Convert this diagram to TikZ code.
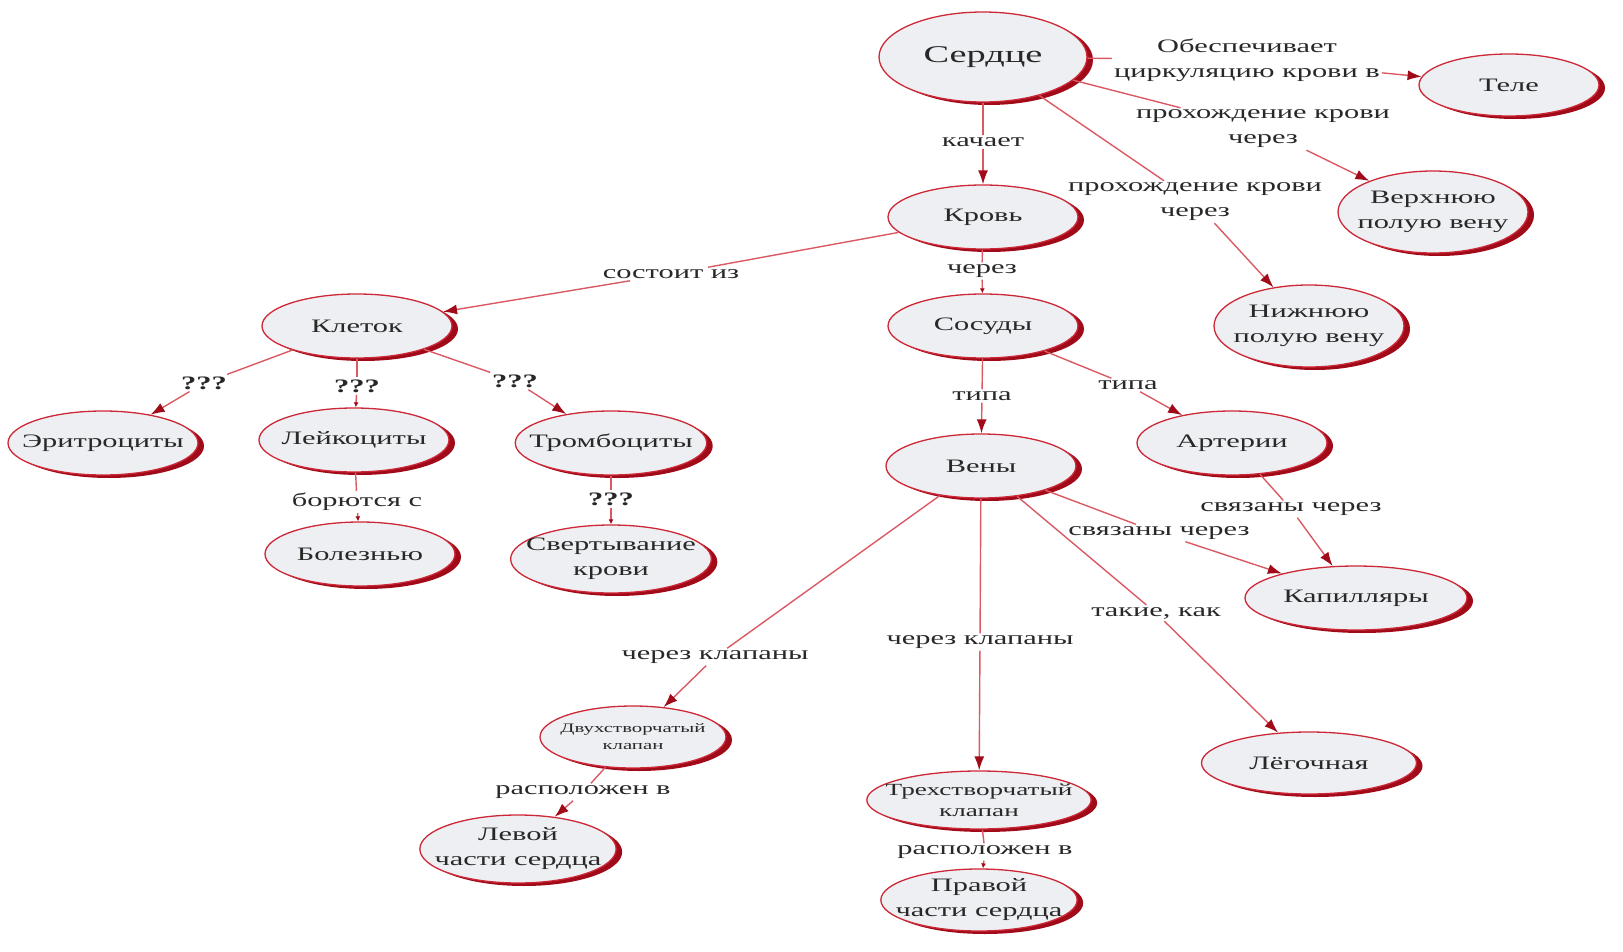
\documentclass[tikz,border=0pt]{standalone}
\usepackage{fontspec}
\setmainfont{Liberation Serif}[FakeStretch=1.6]
\usetikzlibrary{shapes.geometric,shadows,arrows.meta}

\definecolor{cmapred}{RGB}{205,40,55}
\definecolor{cmapdark}{RGB}{160,10,25}
\definecolor{cmapfill}{RGB}{238,239,242}
\definecolor{cmapline}{RGB}{218,90,100}
\definecolor{cmaptext}{RGB}{40,40,40}

\begin{document}
\begin{tikzpicture}[x=1pt, y=-1pt]
        \tikzset{
            concept/.style={ellipse, draw=cmapred, line width=1.3pt, fill=cmapfill,
                drop shadow={fill=cmapdark, opacity=1, shadow xshift=6pt, shadow yshift=-3pt},
                inner xsep=-14pt, inner ysep=0pt, minimum width=190pt, minimum height=64pt,
                align=center, text=cmaptext, font=\fontsize{19}{25}\selectfont},
            link_text/.style={inner sep=2pt, align=center, text=cmaptext,
                font=\fontsize{19}{25}\selectfont},
            link/.style={draw=cmapline, line width=1.4pt},
            link_to/.style={link, -{Latex[length=14pt, width=10pt, color=cmapdark]}},
            link_short/.style={link, -{Latex[length=5pt, width=5pt, color=cmapdark]}}
        }
        \useasboundingbox (0,0) rectangle (1623,952);

        % concepts
        \node[concept, minimum width=208pt, minimum height=90pt, font=\fontsize{24}{26}\selectfont] (serdce) at (983,57) {Сердце};
        \node[concept, minimum width=180pt, minimum height=62pt] (tele) at (1509,85) {Теле};
        \node[concept] (krov) at (983,217) {Кровь};
        \node[concept, minimum height=82pt] (verkhn) at (1433,212) {Верхнюю\\полую вену};
        \node[concept, minimum height=82pt] (nizhn) at (1309,326) {Нижнюю\\полую вену};
        \node[concept] (kletok) at (357,326) {Клеток};
        \node[concept] (sosudy) at (983,326) {Сосуды};
        \node[concept] (eritro) at (103,443) {Эритроциты};
        \node[concept] (leiko) at (354,440) {Лейкоциты};
        \node[concept] (trombo) at (611,443) {Тромбоциты};
        \node[concept] (arterii) at (1232,443) {Артерии};
        \node[concept] (veny) at (981,466) {Вены};
        \node[concept] (bolezn) at (360,554) {Болезнью};
        \node[concept, minimum height=68pt] (svert) at (611,559) {Свертывание\\крови};
        \node[concept, minimum width=222pt] (kapill) at (1356,598) {Капилляры};
        \node[concept, minimum width=186pt, minimum height=62pt, font=\fontsize{13}{17}\selectfont] (dvukh) at (633,737) {Двухстворчатый\\клапан};
        \node[concept, minimum width=215pt, minimum height=62pt] (legoch) at (1309,763) {Лёгочная};
        \node[concept, minimum width=198pt, minimum height=58pt, font=\fontsize{17}{21}\selectfont] (trekh) at (979,800) {Трехстворчатый\\клапан};
        \node[concept, minimum width=178pt, minimum height=68pt] (levoy) at (518,849) {Левой\\части сердца};
        \node[concept, minimum width=186pt, minimum height=62pt] (pravoy) at (979,900) {Правой\\части сердца};

        % linking phrases
        \node[link_text] (l_obesp) at (1247,60) {Обеспечивает\\циркуляцию крови в};
        \node[link_text] (l_prokh1) at (1263,129) {прохождение крови\\через};
        \node[link_text] (l_kachaet) at (983,142) {качает};
        \node[link_text] (l_prokh2) at (1195,202) {прохождение крови\\через};
        \node[link_text] (l_sostoit) at (671,274) {состоит из};
        \node[link_text] (l_cherez) at (982,271) {через};
        \node[link_text, font=\fontsize{19}{21}\bfseries] (l_q1) at (204,383) {???};
        \node[link_text, font=\fontsize{19}{21}\bfseries] (l_q2) at (357,386) {???};
        \node[link_text, font=\fontsize{19}{21}\bfseries] (l_q3) at (515,381) {???};
        \node[link_text] (l_tipa1) at (982,396) {типа};
        \node[link_text] (l_tipa2) at (1128,385) {типа};
        \node[link_text] (l_boryutsya) at (357,502) {борются с};
        \node[link_text, font=\fontsize{19}{21}\bfseries] (l_q4) at (611,499) {???};
        \node[link_text] (l_svyaz1) at (1291,509) {связаны через};
        \node[link_text] (l_svyaz2) at (1159,533) {связаны через};
        \node[link_text] (l_takie) at (1156,613) {такие, как};
        \node[link_text] (l_klap1) at (715,657) {через клапаны};
        \node[link_text] (l_klap2) at (980,642) {через клапаны};
        \node[link_text] (l_rasp1) at (583,792) {расположен в};
        \node[link_text] (l_rasp2) at (985,852) {расположен в};

        % connectors
        \foreach \src/\lab/\dst in {serdce/l_obesp/tele, serdce/l_prokh1/verkhn,
                serdce/l_kachaet/krov, serdce/l_prokh2/nizhn, krov/l_sostoit/kletok,
                kletok/l_q1/eritro, kletok/l_q3/trombo, sosudy/l_tipa1/veny,
                sosudy/l_tipa2/arterii, arterii/l_svyaz1/kapill, veny/l_svyaz2/kapill,
                veny/l_takie/legoch, veny/l_klap1/dvukh, veny/l_klap2/trekh,
                dvukh/l_rasp1/levoy}
            {
            \draw[link] (\src) -- (\lab);
            \draw[link_to] (\lab) -- (\dst);
            }
        \foreach \src/\lab/\dst in {krov/l_cherez/sosudy, kletok/l_q2/leiko,
                leiko/l_boryutsya/bolezn, trombo/l_q4/svert, trekh/l_rasp2/pravoy}
            {
            \draw[link] (\src) -- (\lab);
            \draw[link_short] (\lab) -- (\dst);
            }
    \end{tikzpicture}
\end{document}
